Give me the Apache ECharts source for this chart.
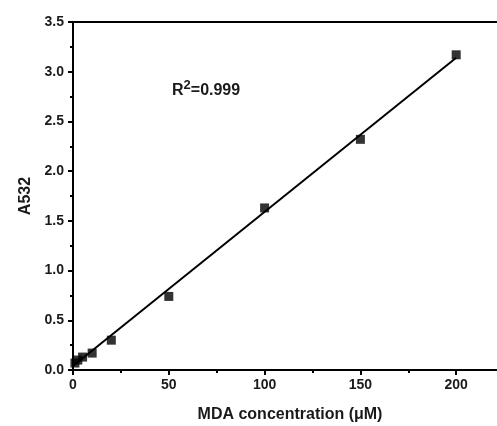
<!DOCTYPE html>
<html>
<head>
<meta charset="utf-8">
<script src="https://cdn.jsdelivr.net/npm/echarts@6/dist/echarts.min.js"></script>
<style>
    html, body { margin: 0; padding: 0; background: #fff; }
</style>
</head>
<body>
<div id="main" style="width:497px;height:426px"></div>
<script>
    // standard points (MDA uM vs absorbance at 532 nm)
    var concX = [1, 2.5, 5, 10, 20, 50, 100, 150, 200];
    var absY = [0.07, 0.10, 0.13, 0.17, 0.30, 0.74, 1.63, 2.32, 3.17];
    // fitted line ends
    var fitX = [0, 200];
    var fitY = [0.04, 3.14];
    var xTicks = [0, 50, 100, 150, 200];
    var yTicks = [0, 0.5, 1.0, 1.5, 2.0, 2.5, 3.0, 3.5];

    var myChart = echarts.init(document.getElementById('main'));
    var font = 'Liberation Sans, Arial, sans-serif';

    var points = [];
    for (var i = 0; i < concX.length; i++) {
        points.push([concX[i], absY[i]]);
    }
    var fit = [];
    for (var j = 0; j < fitX.length; j++) {
        fit.push([fitX[j], fitY[j]]);
    }

    // the original figure is cut off on the right, so the axis runs past the canvas
    var option = {
        backgroundColor: '#fff',
        animation: false,
        grid: {
            left: 73,
            right: -55,
            top: 22,
            bottom: 56,
            outerBoundsMode: 'none',
            containLabel: false
        },
        xAxis: [{
            type: 'value',
            min: xTicks[0],
            max: 250,
            interval: 50,
            name: 'MDA concentration (μM)',
            nameLocation: 'start',
            nameGap: -217,
            nameTextStyle: {
                fontFamily: font,
                fontWeight: 'bold',
                fontSize: 16,
                color: '#1a1a1a',
                align: 'center',
                verticalAlign: 'top',
                padding: [37, 0, 0, 0]
            },
            axisLine: { lineStyle: { color: '#000', width: 2 } },
            axisTick: { inside: false, length: 5, lineStyle: { color: '#000', width: 2 } },
            minorTick: { show: true, splitNumber: 2, length: 3, lineStyle: { color: '#000', width: 2 } },
            splitLine: { show: false },
            axisLabel: {
                margin: 8,
                fontFamily: font,
                fontWeight: 'bold',
                fontSize: 14,
                color: '#1a1a1a',
                formatter: function (v) {
                    return xTicks.indexOf(v) >= 0 ? String(v) : '';
                }
            }
        }, {
            type: 'value',
            position: 'top',
            min: 0,
            max: 250,
            axisLine: { lineStyle: { color: '#000', width: 2 } },
            axisTick: { show: false },
            axisLabel: { show: false },
            splitLine: { show: false }
        }],
        yAxis: {
            type: 'value',
            min: yTicks[0],
            max: yTicks[yTicks.length - 1],
            interval: 0.5,
            name: 'A532',
            nameLocation: 'middle',
            nameGap: 38,
            nameTextStyle: {
                fontFamily: font,
                fontWeight: 'bold',
                fontSize: 16,
                color: '#1a1a1a'
            },
            axisLine: { show: true, lineStyle: { color: '#000', width: 2 } },
            axisTick: { show: true, inside: false, length: 5, lineStyle: { color: '#000', width: 2 } },
            minorTick: { show: true, splitNumber: 2, length: 3, lineStyle: { color: '#000', width: 2 } },
            splitLine: { show: false },
            axisLabel: {
                margin: 9,
                fontFamily: font,
                fontWeight: 'bold',
                fontSize: 14,
                color: '#1a1a1a',
                formatter: function (v) {
                    return v.toFixed(1);
                }
            }
        },
        graphic: [{
            type: 'text',
            left: 172,
            top: 79,
            style: {
                text: '{b|R}{s|2}{b|=0.999}',
                rich: {
                    b: { fontFamily: font, fontWeight: 'bold', fontSize: 16, fill: '#1a1a1a', verticalAlign: 'bottom', lineHeight: 20 },
                    s: { fontFamily: font, fontWeight: 'bold', fontSize: 13, fill: '#1a1a1a', verticalAlign: 'top', lineHeight: 20, padding: [0, 0, 10, 0] }
                }
            }
        }],
        series: [{
            name: 'fit',
            type: 'line',
            data: fit,
            symbol: 'none',
            lineStyle: { color: '#000', width: 2 },
            z: 2
        }, {
            name: 'data',
            type: 'scatter',
            data: points,
            symbol: 'rect',
            symbolSize: 9,
            itemStyle: { color: '#000' },
            z: 3
        }]
    };
    myChart.setOption(option);
</script>
</body>
</html>
